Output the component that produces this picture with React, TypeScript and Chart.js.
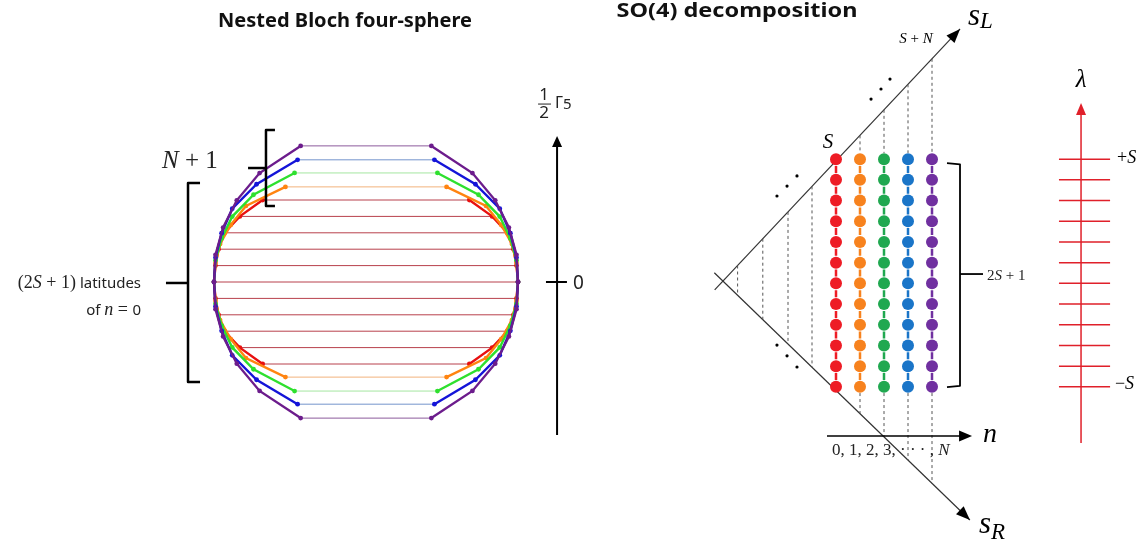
import { useEffect, useRef } from "react";
import { Chart, registerables } from "chart.js";

Chart.register(...registerables);

const W = 1146;
const H = 545;

// ---------------- Left panel: nested Bloch four-sphere ----------------
// latitude index k (2S+1 = 11 latitudes per level)
const latitudeSteps = [5, 4, 3, 2, 1, 0, -1, -2, -3, -4, -5];
// latitude spacing of each nested level n (relative to n = 0)
const levelLatitudeSpacing = [1.0, 1.16, 1.33, 1.49, 1.66];
// half-width of the latitude circle, indexed by |k| = 0 (equator) .. 5 (pole side)
const halfWidthN0 = [1.0, 0.99, 0.97, 0.93, 0.83, 0.68];
const halfWidthN1 = [1.0, 0.99, 0.96, 0.89, 0.79, 0.53];
const halfWidthN2 = [1.0, 0.99, 0.95, 0.88, 0.74, 0.47];
const halfWidthN3 = [1.0, 0.99, 0.95, 0.88, 0.72, 0.45];
const halfWidthN4 = [1.0, 0.99, 0.94, 0.85, 0.7, 0.43];
const sphereColors = ["#e81010", "#ff8410", "#2ee02e", "#1414d8", "#6c1c8c"];
const sphereThinColors = ["#b8404c", "#f2b27c", "#a4e6a0", "#7494cc", "#8c5a9c"];

// ---------------- Middle panel: SO(4) decomposition ----------------
const columnN = [0, 1, 2, 3, 4];
const rowLambda = [5.5, 4.5, 3.5, 2.5, 1.5, 0.5, -0.5, -1.5, -2.5, -3.5, -4.5, -5.5];
const hiddenGuideN = [-4.1, -3.05, -2.0, -1.0];
const columnColors = ["#ee1c25", "#f7821e", "#20a850", "#1a75c8", "#7030a0"];
const coneVertex = { n: -4.71, m: -0.39 };
const coneUpperTip = { n: 5.17, m: 11.79 };
const coneLowerTip = { n: 5.58, m: -11.93 };

// ---------------- Right panel: lambda ladder ----------------
const lambdaTicks = [5.5, 4.5, 3.5, 2.5, 1.5, 0.5, -0.5, -1.5, -2.5, -3.5, -4.5, -5.5];

// ---------------- layout (pixel frames of the two unit systems) ----------------
const SPHERE = { cx: 366, cy: 282, ux: 152, uy: 16.4 };
const SO4 = { cx: 836, cy: 273, ux: 24, uy: 20.7 };

const SERIF = '"Liberation Serif", "DejaVu Serif", serif';
const SANS = '"Noto Sans", "DejaVu Sans", sans-serif';

const halfWidths = [halfWidthN0, halfWidthN1, halfWidthN2, halfWidthN3, halfWidthN4];

function xScale(c: number, u: number) {
  return { type: "linear", axis: "x", display: false, bounds: "data", min: -c / u, max: (W - c) / u };
}
function yScale(c: number, u: number) {
  return { type: "linear", axis: "y", display: false, bounds: "data", min: (c - H) / u, max: c / u };
}

const upperM = (n: number) =>
  coneVertex.m + ((n - coneVertex.n) * (coneUpperTip.m - coneVertex.m)) / (coneUpperTip.n - coneVertex.n);
const lowerM = (n: number) =>
  coneVertex.m + ((n - coneVertex.n) * (coneLowerTip.m - coneVertex.m)) / (coneLowerTip.n - coneVertex.n);

function buildDatasets() {
  const ds: any[] = [];
  const S = { xAxisID: "xs", yAxisID: "ys" };
  const R = { xAxisID: "xr", yAxisID: "yr" };

  // red latitudes (n = 0)
  const red: any[] = [];
  latitudeSteps.forEach((k) => {
    const y = k * levelLatitudeSpacing[0];
    const w = halfWidthN0[Math.abs(k)];
    red.push({ x: -w, y }, { x: w, y }, { x: 0, y: null });
  });
  ds.push({ ...S, data: red, showLine: true, borderColor: sphereThinColors[0], borderWidth: 1, pointRadius: 0, order: 40 });

  // top & bottom latitudes of levels n >= 1
  for (let n = 1; n < 5; n++) {
    const top = 5 * levelLatitudeSpacing[n];
    const w = halfWidths[n][5];
    ds.push({
      ...S,
      data: [{ x: -w, y: top }, { x: w, y: top }, { x: 0, y: null }, { x: -w, y: -top }, { x: w, y: -top }],
      showLine: true,
      borderColor: sphereThinColors[n],
      borderWidth: 1,
      pointRadius: 0,
      order: 40,
    });
  }

  // outlines of each level
  for (let n = 0; n < 5; n++) {
    for (const sign of [-1, 1]) {
      ds.push({
        ...S,
        data: latitudeSteps.map((k) => ({ x: sign * halfWidths[n][Math.abs(k)], y: k * levelLatitudeSpacing[n] })),
        showLine: true,
        borderColor: sphereColors[n],
        backgroundColor: sphereColors[n],
        borderWidth: 2.4,
        pointRadius: 2.4,
        pointBorderWidth: 0,
        order: 20 - n,
      });
    }
  }

  // Gamma5 axis
  ds.push({ ...S, data: [{ x: 1.257, y: -9.33 }, { x: 1.257, y: 8.6 }], showLine: true, borderColor: "#000", borderWidth: 2, pointRadius: 0, order: 5 });
  ds.push({ ...S, data: [{ x: 1.184, y: 0 }, { x: 1.322, y: 0 }], showLine: true, borderColor: "#000", borderWidth: 2, pointRadius: 0, order: 5 });

  // cone lines (with a small overshoot past the vertex)
  const ext = 0.035;
  for (const tip of [coneUpperTip, coneLowerTip]) {
    const start = { x: coneVertex.n + (coneVertex.n - tip.n) * ext, y: coneVertex.m + (coneVertex.m - tip.m) * ext };
    ds.push({ ...R, data: [start, { x: tip.n, y: tip.m }], showLine: true, borderColor: "#333", borderWidth: 1.2, pointRadius: 0, order: 50 });
  }

  // grey dashed guides
  const guides: any[] = [];
  hiddenGuideN.forEach((n) => guides.push({ x: n, y: upperM(n) }, { x: n, y: lowerM(n) }, { x: n, y: null }));
  columnN.forEach((n) => {
    const top = rowLambda[0] + 0.3;
    const bot = rowLambda[rowLambda.length - 1] - 0.3;
    if (upperM(n) > top + 0.2) guides.push({ x: n, y: upperM(n) }, { x: n, y: top }, { x: n, y: null });
    if (lowerM(n) < bot - 0.2) guides.push({ x: n, y: bot }, { x: n, y: lowerM(n) }, { x: n, y: null });
  });
  ds.push({ ...R, data: guides, showLine: true, borderColor: "#555", borderWidth: 1, borderDash: [3, 3], pointRadius: 0, order: 45 });

  // colored columns: short dashes between dots, then dots
  columnN.forEach((n, i) => {
    const dashes: any[] = [];
    for (let r = 0; r < rowLambda.length - 1; r++) {
      const mid = (rowLambda[r] + rowLambda[r + 1]) / 2;
      dashes.push({ x: n, y: mid + 0.17 }, { x: n, y: mid - 0.17 }, { x: n, y: null });
    }
    ds.push({ ...R, data: dashes, showLine: true, borderColor: columnColors[i], borderWidth: 2.5, pointRadius: 0, order: 30 });
    ds.push({
      ...R,
      data: rowLambda.map((m) => ({ x: n, y: m })),
      showLine: false,
      backgroundColor: columnColors[i],
      borderColor: columnColors[i],
      pointRadius: 6,
      pointBorderWidth: 0,
      order: 25,
    });
  });

  // n axis
  ds.push({ ...R, data: [{ x: -0.375, y: -7.87 }, { x: 5.5, y: -7.87 }], showLine: true, borderColor: "#000", borderWidth: 1.5, pointRadius: 0, order: 5 });

  // lambda axis & ticks
  ds.push({ ...R, data: [{ x: 10.21, y: -8.21 }, { x: 10.21, y: 7.9 }], showLine: true, borderColor: "#e0202a", borderWidth: 1.5, pointRadius: 0, order: 5 });
  const ticks: any[] = [];
  lambdaTicks.forEach((m) => ticks.push({ x: 9.29, y: m }, { x: 11.42, y: m }, { x: 0, y: null }));
  ds.push({ ...R, data: ticks, showLine: true, borderColor: "#e0202a", borderWidth: 1.5, pointRadius: 0, order: 5 });

  return ds;
}

type Run = { t: string; font: string; dy?: number };
function drawRuns(ctx: CanvasRenderingContext2D, runs: Run[], x: number, y: number, align: "left" | "right" | "center", color = "#000") {
  ctx.textBaseline = "alphabetic";
  ctx.textAlign = "left";
  ctx.fillStyle = color;
  const ws = runs.map((r) => {
    ctx.font = r.font;
    return ctx.measureText(r.t).width;
  });
  const total = ws.reduce((a, b) => a + b, 0);
  let cx = align === "left" ? x : align === "right" ? x - total : x - total / 2;
  runs.forEach((r, i) => {
    ctx.font = r.font;
    ctx.fillText(r.t, cx, y + (r.dy || 0));
    cx += ws[i];
  });
}

function fitText(ctx: CanvasRenderingContext2D, text: string, font: string, cx: number, y: number, width: number) {
  ctx.save();
  ctx.font = font;
  ctx.textBaseline = "alphabetic";
  ctx.textAlign = "left";
  ctx.fillStyle = "#111";
  const w = ctx.measureText(text).width;
  const s = width / w;
  ctx.translate(cx - width / 2, y);
  ctx.scale(s, 1);
  ctx.fillText(text, 0, 0);
  ctx.restore();
}

function arrowHead(ctx: CanvasRenderingContext2D, fx: number, fy: number, tx: number, ty: number, len: number, half: number, color: string) {
  const a = Math.atan2(ty - fy, tx - fx);
  const c = Math.cos(a), s = Math.sin(a);
  ctx.save();
  ctx.fillStyle = color;
  ctx.beginPath();
  ctx.moveTo(tx, ty);
  ctx.lineTo(tx - len * c + half * s, ty - len * s - half * c);
  ctx.lineTo(tx - len * c - half * s, ty - len * s + half * c);
  ctx.closePath();
  ctx.fill();
  ctx.restore();
}

function poly(ctx: CanvasRenderingContext2D, pts: number[][], width: number, color = "#000") {
  ctx.save();
  ctx.strokeStyle = color;
  ctx.lineWidth = width;
  ctx.lineJoin = "round";
  ctx.beginPath();
  pts.forEach((p, i) => (i ? ctx.lineTo(p[0], p[1]) : ctx.moveTo(p[0], p[1])));
  ctx.stroke();
  ctx.restore();
}

const annotate = {
  id: "annotate",
  afterDraw(chart: any) {
    const ctx: CanvasRenderingContext2D = chart.ctx;
    const { xs, ys, xr, yr } = chart.scales;
    const L = (x: number, y: number) => [xs.getPixelForValue(x), ys.getPixelForValue(y)];
    const R = (n: number, m: number) => [xr.getPixelForValue(n), yr.getPixelForValue(m)];

    // arrowheads
    {
      const [x0, y0] = L(1.257, 0);
      const [x1, y1] = L(1.257, 8.9);
      arrowHead(ctx, x0, y0, x1, y1, 11, 5, "#000");
    }
    for (const tip of [coneUpperTip, coneLowerTip]) {
      const [x0, y0] = R(coneVertex.n, coneVertex.m);
      const [x1, y1] = R(tip.n, tip.m);
      arrowHead(ctx, x0, y0, x1, y1, 14, 5.5, "#000");
    }
    {
      const [x0, y0] = R(0, -7.87);
      const [x1, y1] = R(5.67, -7.87);
      arrowHead(ctx, x0, y0, x1, y1, 13, 5.5, "#000");
    }
    {
      const [x0, y0] = R(10.21, 0);
      const [x1, y1] = R(10.21, 8.21);
      arrowHead(ctx, x0, y0, x1, y1, 12, 5, "#e0202a");
    }

    // titles
    {
      const [x, y] = L(-0.138, 15.55);
      fitText(ctx, "Nested Bloch four-sphere", `bold 20px ${SANS}`, x, y, 254);
      const [x2, y2] = R(-4.125, 12.37);
      fitText(ctx, "SO(4) decomposition", `bold 20px ${SANS}`, x2, y2, 241);
    }

    // brackets (left)
    poly(ctx, [L(-0.599, 9.27), L(-0.658, 9.27), L(-0.658, 4.63), L(-0.599, 4.63)], 2.5);
    poly(ctx, [L(-0.658, 6.95), L(-0.776, 6.95)], 2.5);
    poly(ctx, [L(-1.092, 6.04), L(-1.171, 6.04), L(-1.171, -6.1), L(-1.092, -6.1)], 2.5);
    poly(ctx, [L(-1.171, -0.06), L(-1.316, -0.06)], 2.5);

    // left texts
    {
      const [x, y] = L(-1.342, 6.95);
      drawRuns(ctx, [
        { t: "N", font: `italic 25px ${SERIF}` },
        { t: " + 1", font: `25px ${SERIF}` },
      ], x, y, "left", "#222");
      const [x2, y2] = L(-1.48, -0.366);
      drawRuns(ctx, [
        { t: "(2", font: `18px ${SERIF}` },
        { t: "S", font: `italic 18px ${SERIF}` },
        { t: " + 1)", font: `18px ${SERIF}` },
        { t: " latitudes", font: `15px ${SANS}` },
      ], x2, y2, "right", "#222");
      const [x3, y3] = L(-1.48, -2.01);
      drawRuns(ctx, [
        { t: "of ", font: `15px ${SANS}` },
        { t: "n", font: `italic 18px ${SERIF}` },
        { t: " = ", font: `18px ${SERIF}` },
        { t: "0", font: `15px ${SANS}` },
      ], x3, y3, "right", "#222");
      const [x4, y4] = L(1.362, -0.43);
      drawRuns(ctx, [{ t: "0", font: `19px ${SANS}` }], x4, y4, "left", "#222");
      const [x5, y5] = L(1.171, 11.1);
      drawRuns(ctx, [{ t: "1", font: `17px ${SANS}` }], x5, y5, "center", "#222");
      const [x6, y6] = L(1.171, 10.0);
      drawRuns(ctx, [{ t: "2", font: `17px ${SANS}` }], x6, y6, "center", "#222");
      poly(ctx, [L(1.132, 10.85), L(1.217, 10.85)], 1, "#222");
      const [x7, y7] = L(1.243, 10.61);
      drawRuns(ctx, [
        { t: "Γ", font: `16px ${SANS}` },
        { t: "5", font: `15px ${SANS}`, dy: 1 },
      ], x7, y7, "left", "#222");
    }

    // right brace
    poly(ctx, [R(4.625, 5.31), R(5.167, 5.25), R(5.167, -5.45), R(4.625, -5.51)], 1.8);
    poly(ctx, [R(5.167, -0.05), R(6.125, -0.05)], 1.8);

    // ellipsis dots
    ctx.save();
    ctx.fillStyle = "#000";
    const dots = [
      [-2.46, 3.72], [-2.04, 4.2], [-1.625, 4.69],
      [-2.46, -3.48], [-2.04, -4.0], [-1.625, -4.54],
      [1.46, 8.4], [1.875, 8.89], [2.25, 9.37],
    ];
    dots.forEach(([n, m]) => {
      const [x, y] = R(n, m);
      ctx.beginPath();
      ctx.arc(x, y, 1.6, 0, Math.PI * 2);
      ctx.fill();
    });
    ctx.restore();

    // middle/right texts
    {
      let p = R(-0.333, 6.04);
      drawRuns(ctx, [{ t: "S", font: `italic 21px ${SERIF}` }], p[0], p[1], "center");
      p = R(3.333, 11.11);
      drawRuns(ctx, [
        { t: "S", font: `italic 15px ${SERIF}` },
        { t: " + ", font: `15px ${SERIF}` },
        { t: "N", font: `italic 15px ${SERIF}` },
      ], p[0], p[1], "center");
      p = R(5.5, 11.98);
      drawRuns(ctx, [
        { t: "s", font: `italic 31px ${SERIF}` },
        { t: "L", font: `italic 23px ${SERIF}`, dy: 3 },
      ], p[0], p[1], "left");
      p = R(5.958, -12.56);
      drawRuns(ctx, [
        { t: "s", font: `italic 31px ${SERIF}` },
        { t: "R", font: `italic 23px ${SERIF}`, dy: 6 },
      ], p[0], p[1], "left");
      p = R(6.125, -8.16);
      drawRuns(ctx, [{ t: "n", font: `italic 28px ${SERIF}` }], p[0], p[1], "left");
      p = R(-0.167, -8.79);
      drawRuns(ctx, [
        { t: "0, 1, 2, 3, · · · , ", font: `17px ${SERIF}` },
        { t: "N", font: `italic 17px ${SERIF}` },
      ], p[0], p[1], "left", "#222");
      p = R(6.29, -0.34);
      drawRuns(ctx, [
        { t: "2", font: `15px ${SERIF}` },
        { t: "S", font: `italic 15px ${SERIF}` },
        { t: " + 1", font: `15px ${SERIF}` },
      ], p[0], p[1], "left", "#222");
      p = R(10.21, 8.99);
      drawRuns(ctx, [{ t: "λ", font: `italic 25px ${SERIF}` }], p[0], p[1], "center");
      p = R(11.71, 5.31);
      drawRuns(ctx, [
        { t: "+", font: `18px ${SERIF}` },
        { t: "S", font: `italic 18px ${SERIF}` },
      ], p[0], p[1], "left");
      p = R(11.62, -5.6);
      drawRuns(ctx, [
        { t: "−", font: `18px ${SERIF}` },
        { t: "S", font: `italic 18px ${SERIF}` },
      ], p[0], p[1], "left");
    }
  },
};

export default function App() {
  const ref = useRef<HTMLCanvasElement | null>(null);
  useEffect(() => {
    if (!ref.current) return;
    const chart = new Chart(ref.current, {
      type: "scatter",
      data: { datasets: buildDatasets() },
      options: {
        animation: false,
        responsive: false,
        devicePixelRatio: 1,
        layout: { padding: 0, autoPadding: false },
        plugins: { legend: { display: false }, tooltip: { enabled: false }, title: { display: false } },
        events: [],
        scales: {
          xs: xScale(SPHERE.cx, SPHERE.ux),
          ys: yScale(SPHERE.cy, SPHERE.uy),
          xr: xScale(SO4.cx, SO4.ux),
          yr: yScale(SO4.cy, SO4.uy),
        } as any,
      } as any,
      plugins: [annotate],
    });
    return () => chart.destroy();
  }, []);
  return (
    <div style={{ position: "absolute", left: 0, top: 0, width: W, height: H, background: "#fff" }}>
      <canvas ref={ref} width={W} height={H} style={{ display: "block", width: W, height: H }} />
    </div>
  );
}
